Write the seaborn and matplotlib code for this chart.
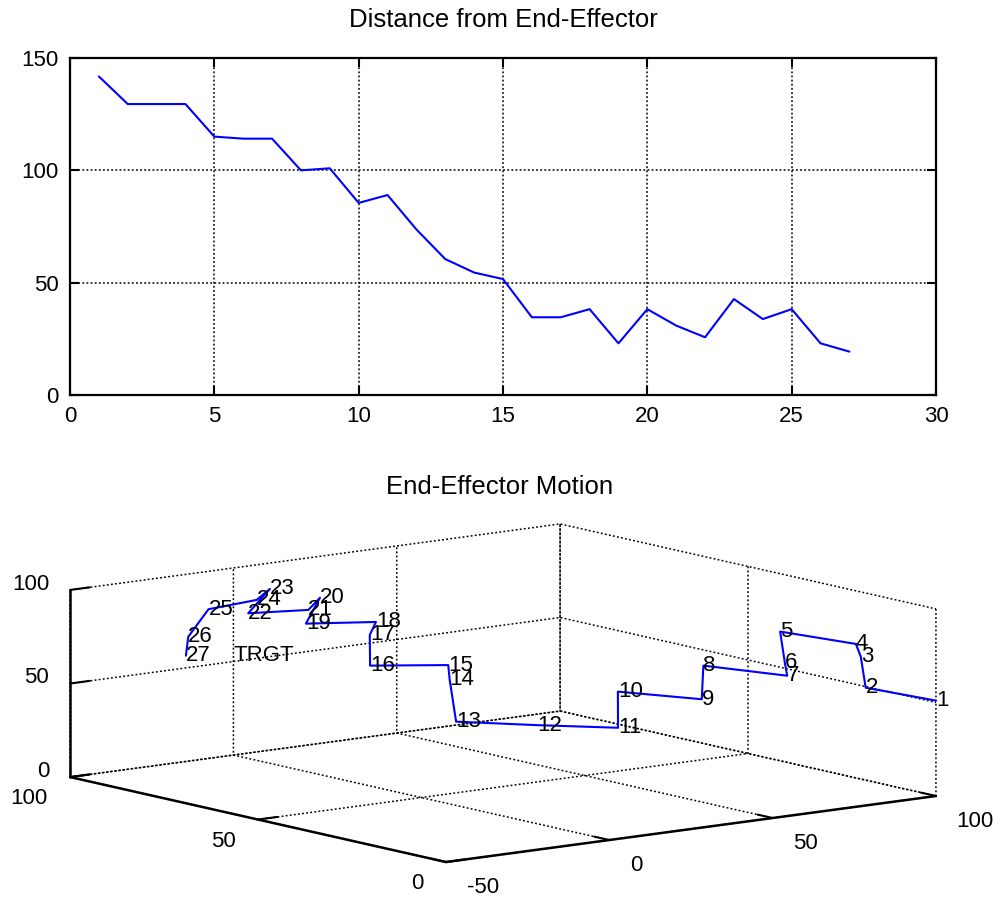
import numpy as np
import pandas as pd
import matplotlib
matplotlib.use('Agg')
import matplotlib.pyplot as plt
import seaborn as sns

steps = list(range(1, 28))
distance = [141.8, 129.5, 129.5, 129.5, 115.0, 114.1, 114.1, 100.0, 100.9, 85.5,
            89.0, 73.7, 60.5, 54.5, 51.6, 34.6, 34.6, 38.2, 23.0, 38.2,
            30.9, 25.7, 42.7, 33.8, 38.2, 23.0, 19.3]

ee_x = [100.0, 100.0, 100.0, 100.0, 92.8, 93.1, 92.1, 86.8, 84.8, 74.2,
        70.1, 56.0, 43.9, 49.3, 48.5, 32.4, 33.0, 35.0, 15.4, 15.0,
        10.5, -1.0, -1.6, -0.6, -17.4, -16.8, -18.0]
ee_y = [0.0, 18.7, 20.0, 21.3, 35.2, 34.2, 32.7, 50.4, 49.1, 62.2,
        58.6, 67.9, 78.9, 85.3, 85.0, 91.8, 92.4, 92.5, 94.1, 90.0,
        89.2, 95.2, 88.9, 93.3, 91.5, 97.4, 97.0]
ee_z = [51.0, 49.4, 65.4, 71.6, 73.6, 57.2, 51.3, 49.9, 33.0, 33.6,
        16.9, 17.4, 17.1, 35.2, 43.5, 43.9, 59.9, 66.3, 69.3, 85.1,
        80.0, 78.2, 94.2, 86.1, 85.9, 68.4, 58.7]
point_labels = [str(i) for i in range(1, 28)]
target = [0.0, 100.0, 53.0]
target_label = 'TRGT'

xticks_top = [0, 5, 10, 15, 20, 25, 30]
yticks_top = [0, 50, 100, 150]
xticks_3d = [-50, 0, 50, 100]
yticks_3d = [0, 50, 100]
zticks_3d = [0, 50, 100]

sns.set_theme(style='white')
plt.rcParams['font.family'] = ['Liberation Sans', 'DejaVu Sans']
plt.rcParams['axes.unicode_minus'] = False

W, H = 1001, 897
fig = plt.figure(figsize=(W / 100, H / 100), dpi=100)
fig.patch.set_facecolor('white')
dotted = (0, (1.2, 1.5))

# ---------- top: distance ----------
ax1 = fig.add_axes([70 / W, 1 - 395 / H, 866 / W, 337 / H])
df = pd.DataFrame({'step': steps, 'distance': distance})
sns.lineplot(data=df, x='step', y='distance', color='blue', linewidth=1.5, ax=ax1)
ax1.set_xlim(0, 30)
ax1.set_ylim(0, 150)
ax1.set_xticks(xticks_top)
ax1.set_yticks(yticks_top)
ax1.set_xlabel('')
ax1.set_ylabel('')
ax1.grid(True, color='black', linestyle=dotted, linewidth=1.1)
ax1.tick_params(direction='in', length=6.5, width=1.5, top=True, right=True,
                bottom=True, left=True, labelsize=16, colors='black', pad=8)
for s in ax1.spines.values():
    s.set_visible(True)
    s.set_color('black')
    s.set_linewidth(1.6)
ax1.set_title('Distance from End-Effector', fontsize=18.5, y=1 + (58 - 20) / 337,
              va='center', pad=0, color='black')

# ---------- bottom: 3D motion ----------
S = 1000
cx, cy = 489.5, 706.5
ax3 = fig.add_axes([(cx - S / 2) / W, (H - cy - S / 2) / H, S / W, S / H],
                   projection='3d')
ax3.set_facecolor('none')
ax3.set_proj_type('ortho')
ax3.view_init(elev=10.05, azim=-127.67)
ax3.set_box_aspect((619, 615, 190), zoom=0.867)
ax3.plot(ee_x, ee_y, ee_z, color='blue', linewidth=1.5)
ax3.set_xlim(-50, 100)
ax3.set_ylim(0, 100)
ax3.set_zlim(0, 100)
ax3.set_xticks(xticks_3d)
ax3.set_yticks(yticks_3d)
ax3.set_zticks(zticks_3d)
for axis in (ax3.xaxis, ax3.yaxis, ax3.zaxis):
    axis.set_pane_color((1, 1, 1, 0))
    axis.pane.set_edgecolor('none')
    axis._axinfo['grid'].update(color='black', linestyle=dotted, linewidth=1.1)
    axis._axinfo['tick']['inward_factor'] = 0.0
    axis._axinfo['tick']['outward_factor'] = 0.5
    axis._axinfo['tick']['linewidth'] = {True: 1.5, False: 1.0}
    axis.line.set_color('black')
    axis.line.set_linewidth(1.8)
ax3.tick_params(labelsize=16, colors='black')
ax3.xaxis.set_tick_params(pad=12.6)
ax3.yaxis.set_tick_params(pad=8.9)
ax3.zaxis.set_tick_params(pad=1.1)
for t in ax3.xaxis.get_major_ticks():
    t.label1.set_ha('left')
    t.label1.set_va('top')
for t in ax3.yaxis.get_major_ticks():
    t.label1.set_ha('right')
    t.label1.set_va('top')
for t in ax3.zaxis.get_major_ticks():
    t.label1.set_ha('right')
    t.label1.set_va('baseline')
fig.text(500 / W, 1 - 487 / H, 'End-Effector Motion', fontsize=18.5,
         ha='center', va='center', color='black')

# point labels: placed at each 3D point through the axes' own projection
fig.canvas.draw()
M = ax3.M


def projected(x, y, z):
    v = M @ np.array([x, y, z, 1.0])
    return v[0] / v[3], v[1] / v[3]


for lab, x, y, z in zip(point_labels, ee_x, ee_y, ee_z):
    px, py = projected(x, y, z)
    ax3.text2D(px, py, lab, transform=ax3.transData, fontsize=16,
               ha='left', va='center', color='black')
tx, ty = projected(*target)
ax3.text2D(tx, ty, target_label, transform=ax3.transData, fontsize=16,
           ha='left', va='center', color='black')

fig.savefig('out.png', dpi=100)
